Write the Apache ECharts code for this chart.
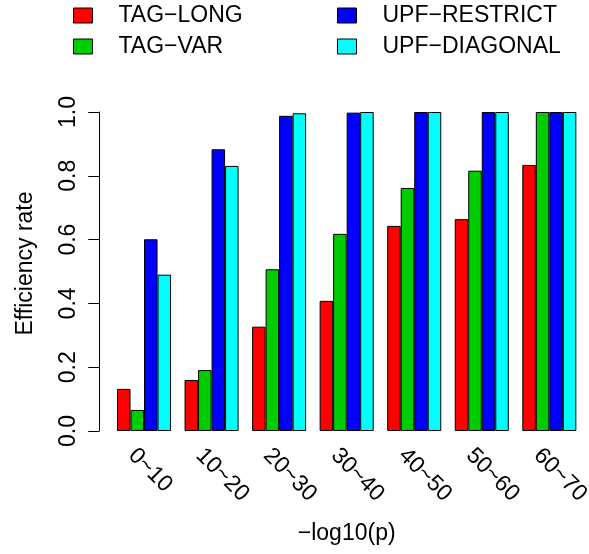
<!DOCTYPE html>
<html>
<head>
<meta charset="utf-8">
<script src="https://cdn.jsdelivr.net/npm/echarts@6/dist/echarts.min.js"></script>
<style>
html,body{margin:0;padding:0;background:#fff;}
#chart{width:589px;height:554px;}
</style>
</head>
<body>
<div id="chart"></div>
<script>
var categories = ['0~10', '10~20', '20~30', '30~40', '40~50', '50~60', '60~70'];
var seriesNames = ['TAG\u2212LONG', 'TAG\u2212VAR', 'UPF\u2212RESTRICT', 'UPF\u2212DIAGONAL'];
var tagLong = [0.132, 0.160, 0.327, 0.408, 0.643, 0.664, 0.834];
var tagVar = [0.066, 0.191, 0.507, 0.618, 0.762, 0.816, 1.0];
var upfRestrict = [0.601, 0.883, 0.988, 0.998, 1.0, 1.0, 1.0];
var upfDiagonal = [0.490, 0.831, 0.996, 1.0, 1.0, 1.0, 1.0];
var colors = ['#FF0000', '#00CD00', '#0000FF', '#00FFFF'];
var yTicks = [0, 0.2, 0.4, 0.6, 0.8, 1.0];

var FONT = "'Liberation Sans', Arial, Helvetica, sans-serif";
var allData = [tagLong, tagVar, upfRestrict, upfDiagonal];

var chart = echarts.init(document.getElementById('chart'), null, {renderer: 'canvas'});
var legendBase = {
  orient: 'vertical',
  top: 4,
  padding: 0,
  itemWidth: 19,
  itemHeight: 15,
  itemGap: 8,
  icon: 'rect',
  selectedMode: false,
  itemStyle: {borderColor: '#000', borderWidth: 1},
  textStyle: {fontFamily: FONT, fontSize: 23, color: '#000', lineHeight: 23, padding: [0, 0, 0, 21]}
};
var option = {
  animation: false,
  backgroundColor: '#fff',
  legend: [
    Object.assign({}, legendBase, {left: 73, data: [seriesNames[0], seriesNames[1]]}),
    Object.assign({}, legendBase, {left: 337, data: [seriesNames[2], seriesNames[3]]})
  ],
  grid: {left: 110.25, right: 5.9, top: 112, bottom: 123, containLabel: false, outerBoundsMode: 'none'},
  xAxis: {
    type: 'category',
    data: categories,
    axisLine: {show: false},
    axisTick: {show: false},
    axisLabel: {
      rotate: -45, margin: 9, verticalAlign: 'top', lineHeight: 34,
      fontFamily: FONT, fontSize: 23, color: '#000', interval: 0
    },
    name: '\u2212log10(p)',
    nameLocation: 'middle',
    nameGap: 91,
    nameTextStyle: {fontFamily: FONT, fontSize: 23, color: '#000'}
  },
  yAxis: {
    type: 'value',
    min: 0, max: 1, interval: 0.2,
    offset: 11,
    splitLine: {show: false},
    axisLine: {show: true, lineStyle: {color: '#000', width: 1}},
    axisTick: {show: true, length: 11, lineStyle: {color: '#000', width: 1}},
    axisLabel: {
      rotate: 90, margin: 19,
      fontFamily: FONT, fontSize: 23, color: '#000',
      formatter: function (v) { return v.toFixed(1); }
    },
    name: 'Efficiency rate',
    nameLocation: 'middle',
    nameGap: 62,
    nameRotate: 90,
    nameTextStyle: {fontFamily: FONT, fontSize: 23, color: '#000', padding: [0, 0, 0, 16]}
  },
  series: seriesNames.map(function (n, i) {
    return {
      name: n,
      type: 'bar',
      data: allData[i],
      barGap: '0%',
      barCategoryGap: '20%',
      itemStyle: {color: colors[i], borderColor: '#000', borderWidth: 1}
    };
  })
};
chart.setOption(option);
</script>
</body>
</html>
